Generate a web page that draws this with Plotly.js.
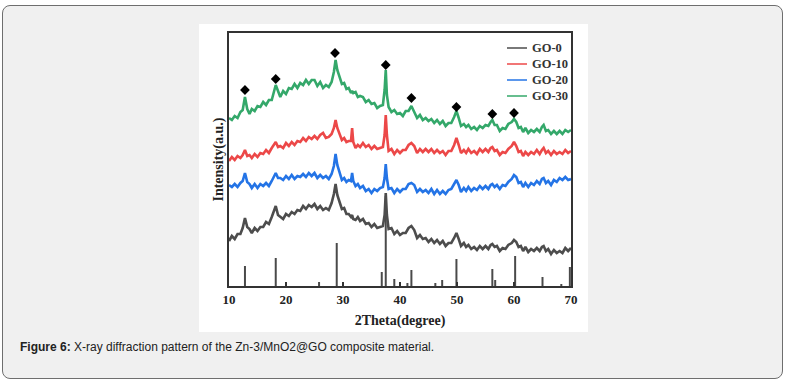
<!DOCTYPE html>
<html><head><meta charset="utf-8">
<script src="https://cdn.plot.ly/plotly-3.0.1.min.js"></script>
<style>
html,body{margin:0;padding:0;background:#fff;width:798px;height:389px;overflow:hidden;}
#frame{position:absolute;left:2px;top:5px;width:781px;height:374px;background:#f0f0f0;border:1.5px solid #6e6e6e;border-radius:8px;box-sizing:border-box;}
#white{position:absolute;left:199px;top:24px;width:389px;height:308px;background:#fff;}
#cap{position:absolute;left:20px;top:340px;font-family:"Liberation Sans",Arial,sans-serif;font-size:12px;color:#222;line-height:14px;white-space:nowrap;}
#chart{position:absolute;left:0;top:0;width:798px;height:389px;}
</style></head>
<body>
<div id="frame"></div>
<div id="white"></div>
<div id="cap"><b>Figure 6:</b> X-ray diffraction pattern of the Zn-3/MnO2@GO composite material.</div>
<div id="chart"></div>
<script>
var twoTheta = [
10,10.5,11,11.5,12,12.4,12.8,13.2,13.6,14,
14.5,15,15.5,16,16.5,17,17.5,17.9,18.2,18.6,
19,19.5,20,20.5,21,21.5,22,22.5,23,23.5,
24,24.5,25,25.5,26,26.5,27,27.5,28,28.4,
28.7,29,29.4,29.8,30.2,30.6,31,31.4,31.6,31.8,
32.2,32.6,33,33.5,34,34.5,35,35.5,36,36.5,
37,37.3,37.5,37.7,38,38.5,39,39.5,40,40.5,
41,41.5,42,42.5,43,43.5,44,44.5,45,45.5,
46,46.5,47,47.5,48,48.5,49,49.5,49.9,50.3,
50.7,51.2,51.6,52,52.5,53,53.5,54,54.5,55,
55.5,55.9,56.2,56.6,57,57.5,58,58.5,59,59.6,
60,60.4,60.8,61.2,61.6,62,62.5,63,63.5,64,
64.5,64.9,65.2,65.6,66,66.5,67,67.5,68,68.5,
69,69.5,70];

var go0 = [
45,50,47,52,52,58,68,59,57,53,
58,55,59,59,64,62,69,76,80,71,
69,67,72,70,74,72,76,75,80,77,
81,79,82,77,80,76,78,76,83,92,
102,91,84,77,78,72,72,69,71,67,
66,69,65,67,62,63,59,62,58,59,
60,71,93,71,57,58,52,55,51,53,
53,58,60,56,48,51,47,48,44,47,
43,46,42,45,40,43,43,48,53,47,
40,43,39,41,37,39,36,40,37,40,
37,41,42,39,40,35,38,37,41,43,
46,44,39,40,35,39,34,37,35,38,
35,39,40,35,37,32,36,33,35,33,
38,35,38];

var go10 = [
125,129,126,130,128,131,136,130,131,128,
132,129,133,132,136,133,138,141,144,139,
140,138,143,140,144,141,145,144,148,145,
149,147,150,147,151,153,148,149,152,158,
166,158,152,146,148,144,145,145,158,144,
138,141,139,143,139,141,137,140,137,138,
139,151,171,151,135,137,132,136,133,136,
136,141,143,140,133,137,134,137,134,137,
133,136,133,135,131,135,135,141,148,141,
133,136,133,137,133,135,132,137,134,137,
134,138,139,135,136,131,134,133,137,140,
144,140,134,135,130,134,131,134,132,136,
132,136,138,133,135,131,135,132,134,132,
136,133,135];

var go20 = [
101,99,102,99,103,105,113,104,102,98,
102,98,102,100,103,100,105,109,113,108,
108,106,110,107,111,107,110,109,112,109,
113,110,113,108,111,108,110,107,112,120,
132,121,113,106,108,104,106,105,113,105,
100,102,98,100,95,97,93,97,95,98,
99,108,122,108,97,98,93,97,94,97,
97,102,103,101,94,97,94,96,93,97,
92,96,92,95,92,96,97,102,106,101,
94,98,95,99,95,98,96,100,97,100,
97,101,102,99,101,97,101,100,104,107,
111,109,103,104,99,103,99,103,101,105,
102,107,108,103,105,101,106,104,108,106,
109,106,107];

var go30 = [
168,166,170,168,174,176,189,177,172,177,
175,180,179,184,181,186,186,196,201,195,
189,195,192,198,197,202,198,203,201,206,
202,206,206,200,204,198,201,199,204,214,
226,216,209,202,203,197,198,193,195,193,
194,189,190,189,184,186,182,183,178,180,
181,196,216,191,179,174,176,172,173,170,
175,175,180,174,168,171,166,168,165,167,
163,166,162,165,160,163,163,169,175,168,
160,162,159,161,157,159,156,160,158,161,
160,164,166,161,161,155,158,157,162,164,
167,164,158,159,154,158,153,156,154,157,
154,159,161,155,156,152,155,152,155,152,
156,154,156];

var refX = [12.8,18.2,25.8,28.9,36.8,37.5,39.0,41.3,42.0,46.2,47.4,49.9,56.2,56.7,60.2,65.0,68.3,69.8];
var refH = [20,28,4,43,14,90,7,3,16,3,6,27,17,6,30,9,2,19];

var peakX = [12.8,18.2,28.6,37.5,42.0,49.9,56.2,60.0];
var peakY = [196,207,233,221,188,179,172,173];

var seriesNames = ['GO-0','GO-10','GO-20','GO-30'];
var seriesData = [go0, go10, go20, go30];
var seriesColors = ['#4d4d4d','#ec4848','#2474e6','#34a86a'];

var traces = [{
  type:'bar', x:refX, y:refH, width:0.35,
  marker:{color:'#4a4a4a', line:{width:0}},
  showlegend:false, hoverinfo:'skip'
}];
for (var i=0;i<seriesNames.length;i++){
  traces.push({
    type:'scatter', mode:'lines', name:seriesNames[i],
    x:twoTheta, y:seriesData[i],
    line:{color:seriesColors[i], width:2.6},
    showlegend:false
  });
}
traces.push({
  type:'scatter', mode:'markers', x:peakX, y:peakY,
  marker:{symbol:'diamond', size:7.5, color:'#000'},
  showlegend:false, hoverinfo:'skip'
});

var serif = '"Liberation Serif","Times New Roman",serif';

// legend drawn as shapes + annotations (plot area 229..571 x 33..286 px)
var PL=229, PW=342, PT=33, PH=253;
function px(x){return (x-PL)/PW;}
function py(y){return (PT+PH-y)/PH;}
var shapes=[], annotations=[];
for (var j=0;j<seriesNames.length;j++){
  var ry = 48 + 16*j;
  shapes.push({type:'line', xref:'paper', yref:'paper', x0:px(507), x1:px(527), y0:py(ry), y1:py(ry),
    line:{color:seriesColors[j], width:1.5}});
  annotations.push({xref:'paper', yref:'paper', x:px(530), y:py(ry), xanchor:'left', yanchor:'middle',
    text:'<b>'+seriesNames[j]+'</b>', showarrow:false,
    font:{family:serif, size:12.5, color:'#333'}});
}

var layout = {
  width:798, height:389,
  margin:{l:229, r:227, t:33, b:103, pad:0},
  paper_bgcolor:'rgba(0,0,0,0)', plot_bgcolor:'rgba(0,0,0,0)',
  font:{family:serif, color:'#222'},
  barmode:'overlay',
  showlegend:false,
  shapes:shapes, annotations:annotations,
  xaxis:{
    range:[10,70], tickvals:[10,20,30,40,50,60,70],
    ticks:'inside', ticklen:4, tickwidth:1.5, tickcolor:'#333',
    showline:true, mirror:true, linewidth:2, linecolor:'#333',
    showgrid:false, zeroline:false,
    tickfont:{size:13, weight:'bold', color:'#222'},
    title:{text:'<b>2Theta(degree)</b>', font:{size:14, color:'#222'}, standoff:10}
  },
  yaxis:{
    range:[0,253], showticklabels:false, ticks:'',
    showline:true, mirror:true, linewidth:2, linecolor:'#333',
    showgrid:false, zeroline:false,
    title:{text:'<b>Intensity(a.u.)</b>', font:{size:14, color:'#222'}, standoff:0}
  },
  hovermode:false
};
Plotly.newPlot('chart', traces, layout, {displayModeBar:false, staticPlot:true});
</script>
</body></html>
